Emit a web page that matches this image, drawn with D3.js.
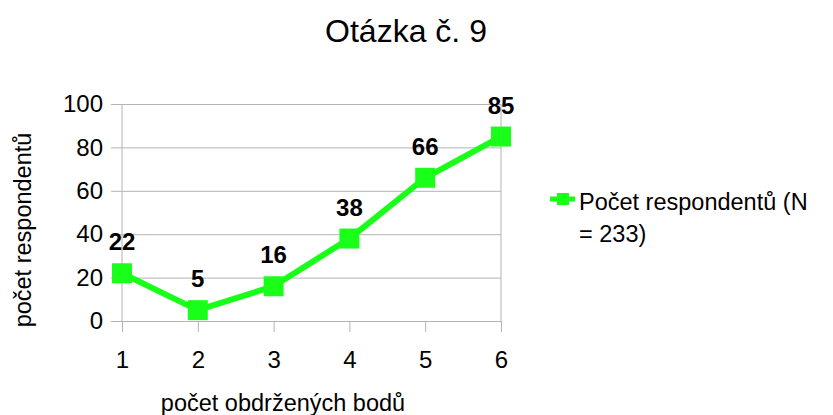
<!DOCTYPE html>
<html>
<head>
<meta charset="utf-8">
<script src="https://cdn.jsdelivr.net/npm/d3@7"></script>
<style>
  body { margin: 0; background: #fff; }
  text { font-family: "Liberation Sans", Arial, sans-serif; fill: #000; }
</style>
</head>
<body>
<div class="chart"></div>
<script>
// Otázka č. 9 - line chart

var categories = ["1", "2", "3", "4", "5", "6"];
var values = [22, 5, 16, 38, 66, 85];
var yTicks = [0, 20, 40, 60, 80, 100];
var seriesName = ["Počet respondentů (N", "= 233)"];

var svgWidth = 833;
var svgHeight = 415;

var plot = { left: 122, right: 501, top: 104, bottom: 321 };
var green = "#1aff1a";
var gridColor = "#b3b3b3";

var svg = d3.select(".chart")
  .append("svg")
  .attr("width", svgWidth)
  .attr("height", svgHeight);

var x = d3.scalePoint()
  .domain(categories)
  .range([plot.left, plot.right]);

var y = d3.scaleLinear()
  .domain([0, 100])
  .range([plot.bottom, plot.top]);

// title
svg.append("text")
  .attr("x", 406)
  .attr("y", 42)
  .attr("text-anchor", "middle")
  .style("font-size", "32px")
  .text("Otázka č. 9");

// y gridlines + labels
var yAxis = svg.append("g")
  .attr("transform", `translate(111, 0)`)
  .call(d3.axisLeft(y).tickValues(yTicks).tickSize(-(plot.right - 111)).tickPadding(8));
yAxis.select(".domain").remove();
yAxis.selectAll("line").attr("stroke", gridColor);
yAxis.selectAll("text")
  .style("font-size", "24px")
  .style("font-family", "Liberation Sans, Arial, sans-serif");

// x axis ticks + labels
var xAxis = svg.append("g")
  .attr("transform", `translate(0, ${plot.bottom})`)
  .call(d3.axisBottom(x).tickSize(11).tickPadding(19));
xAxis.select(".domain").remove();
xAxis.selectAll("line").attr("stroke", gridColor);
xAxis.selectAll("text")
  .style("font-size", "24px")
  .style("font-family", "Liberation Sans, Arial, sans-serif");

// plot frame verticals
svg.append("line")
  .attr("x1", plot.left).attr("x2", plot.left)
  .attr("y1", plot.top).attr("y2", plot.bottom)
  .attr("stroke", gridColor);
svg.append("line")
  .attr("x1", plot.right).attr("x2", plot.right)
  .attr("y1", plot.top).attr("y2", plot.bottom)
  .attr("stroke", gridColor);

// axis titles
svg.append("text")
  .attr("x", 283)
  .attr("y", 411)
  .attr("text-anchor", "middle")
  .style("font-size", "23.5px")
  .text("počet obdržených bodů");

svg.append("text")
  .attr("transform", "translate(31, 230) rotate(-90)")
  .attr("text-anchor", "middle")
  .style("font-size", "23.5px")
  .text("počet respondentů");

// line
var line = d3.line()
  .x((d, i) => x(categories[i]))
  .y(d => y(d));

svg.append("path")
  .datum(values)
  .attr("d", line)
  .attr("fill", "none")
  .attr("stroke", green)
  .attr("stroke-width", 6)
  .attr("stroke-linejoin", "round");

// markers
svg.selectAll(".marker")
  .data(values)
  .enter()
  .append("rect")
  .attr("class", "marker")
  .attr("x", (d, i) => x(categories[i]) - 10)
  .attr("y", d => y(d) - 10)
  .attr("width", 20)
  .attr("height", 20)
  .attr("fill", green);

// data labels
svg.selectAll(".vlabel")
  .data(values)
  .enter()
  .append("text")
  .attr("class", "vlabel")
  .attr("x", (d, i) => x(categories[i]))
  .attr("y", d => y(d) - 23)
  .attr("text-anchor", "middle")
  .style("font-size", "24px")
  .style("font-weight", "bold")
  .text(d => d);

// legend
var legend = svg.append("g");
legend.append("line")
  .attr("x1", 550).attr("x2", 575)
  .attr("y1", 199).attr("y2", 199)
  .attr("stroke", green)
  .attr("stroke-width", 5);
legend.append("rect")
  .attr("x", 557).attr("y", 193)
  .attr("width", 12).attr("height", 12)
  .attr("fill", green);
legend.selectAll(".ltext")
  .data(seriesName)
  .enter()
  .append("text")
  .attr("class", "ltext")
  .attr("x", 579)
  .attr("y", (d, i) => 210 + i * 32)
  .style("font-size", "23.5px")
  .text(d => d);
</script>
</body>
</html>
